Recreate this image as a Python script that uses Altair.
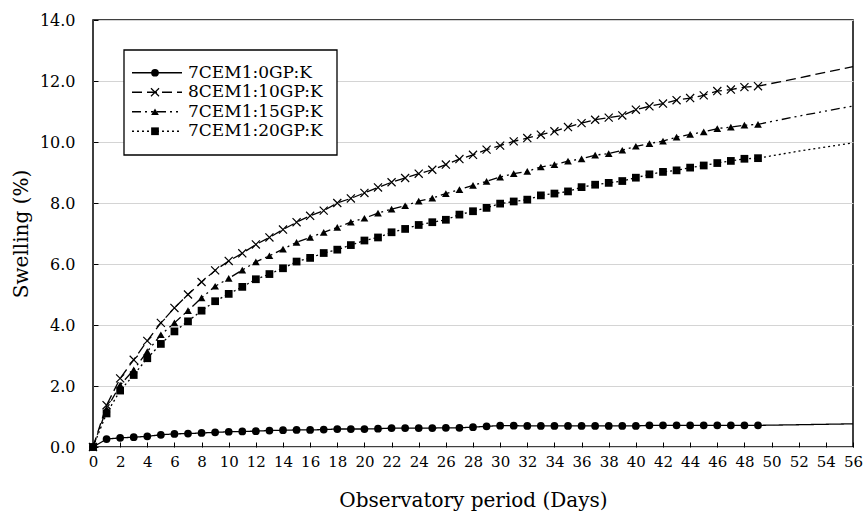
import altair as alt
import pandas as pd

series = ["7CEM1:0GP:K", "8CEM1:10GP:K", "7CEM1:15GP:K", "7CEM1:20GP:K"]
days = list(range(50))

gp0 = [0.00, 0.26, 0.30, 0.32, 0.35, 0.40, 0.43, 0.44, 0.46, 0.48,
       0.50, 0.51, 0.52, 0.54, 0.55, 0.56, 0.56, 0.57, 0.59, 0.59,
       0.59, 0.60, 0.62, 0.62, 0.62, 0.62, 0.63, 0.63, 0.65, 0.68,
       0.70, 0.70, 0.69, 0.69, 0.69, 0.69, 0.69, 0.69, 0.69, 0.69,
       0.69, 0.71, 0.71, 0.71, 0.71, 0.71, 0.71, 0.71, 0.71, 0.71]
gp10 = [0.00, 1.37, 2.25, 2.86, 3.48, 4.07, 4.56, 5.00, 5.41, 5.79,
        6.10, 6.35, 6.64, 6.87, 7.13, 7.37, 7.58, 7.75, 8.00, 8.15,
        8.33, 8.51, 8.68, 8.82, 8.96, 9.09, 9.26, 9.44, 9.58, 9.75,
        9.88, 10.02, 10.13, 10.24, 10.35, 10.49, 10.62, 10.73, 10.80, 10.87,
        11.06, 11.17, 11.26, 11.37, 11.44, 11.53, 11.67, 11.72, 11.80, 11.83]
gp15 = [0.00, 1.25, 2.03, 2.53, 3.13, 3.68, 4.07, 4.47, 4.89, 5.27,
        5.53, 5.80, 6.07, 6.27, 6.49, 6.71, 6.87, 7.04, 7.20, 7.37,
        7.50, 7.67, 7.80, 7.91, 8.06, 8.16, 8.31, 8.44, 8.58, 8.71,
        8.85, 8.96, 9.04, 9.18, 9.26, 9.37, 9.45, 9.57, 9.62, 9.73,
        9.86, 9.95, 10.03, 10.16, 10.25, 10.33, 10.44, 10.49, 10.55, 10.58]
gp20 = [0.00, 1.10, 1.85, 2.36, 2.91, 3.38, 3.79, 4.12, 4.47, 4.78,
        5.02, 5.25, 5.50, 5.67, 5.86, 6.08, 6.20, 6.36, 6.47, 6.62,
        6.77, 6.87, 7.04, 7.15, 7.28, 7.37, 7.45, 7.62, 7.73, 7.84,
        7.98, 8.05, 8.11, 8.25, 8.31, 8.38, 8.52, 8.60, 8.66, 8.72,
        8.83, 8.94, 9.02, 9.07, 9.16, 9.23, 9.31, 9.38, 9.45, 9.47]

# trend-line continuation beyond the last observation
trend_days = [52, 56]
trend_gp0 = [0.73, 0.76]
trend_gp10 = [12.10, 12.47]
trend_gp15 = [10.85, 11.18]
trend_gp20 = [9.70, 9.97]

x_ticks = list(range(0, 57, 2))
y_ticks = [0, 2, 4, 6, 8, 10, 12, 14]

rows = []
for name, vals, tvals in zip(series, [gp0, gp10, gp15, gp20],
                             [trend_gp0, trend_gp10, trend_gp15, trend_gp20]):
    for d, v in zip(days, vals):
        rows.append({"series": name, "day": d, "value": v, "kind": "obs"})
    for d, v in zip(trend_days, tvals):
        rows.append({"series": name, "day": d, "value": v, "kind": "trend"})
df = pd.DataFrame(rows)
obs = df[df["kind"] == "obs"]

FONT = "DejaVu Serif"
cross_path = "M-1,-1L1,1M-1,1L1,-1"

dash_scale = alt.Scale(domain=series, range=[[1, 0], [10, 5], [9, 4, 2, 4, 2, 4], [2, 3]])
shape_scale = alt.Scale(domain=series, range=["circle", cross_path, "triangle-up", "square"])

x_axis = alt.Axis(values=x_ticks, tickCount=29, title="Observatory period (Days)",
                  grid=False, offset=-5, tickSize=5, labelPadding=7, labelFontSize=15,
                  titlePadding=21, labelFlush=False, labelOverlap=False)
y_axis = alt.Axis(values=y_ticks, tickCount=8, format=".1f", title="Swelling (%)",
                  grid=True, offset=-5, tickSize=5, labelPadding=18,
                  titlePadding=8, labelOverlap=False)


def xe():
    return alt.X("day:Q", scale=alt.Scale(domain=[0, 56], nice=False), axis=x_axis)


def ye():
    return alt.Y("value:Q", scale=alt.Scale(domain=[0, 14], nice=False), axis=y_axis)


lines = alt.Chart(df).mark_line(color="black", strokeWidth=1.3).encode(
    x=xe(), y=ye(), detail="series:N",
    strokeDash=alt.StrokeDash("series:N", scale=dash_scale, legend=None),
)

filled_pts = alt.Chart(obs).transform_filter(
    alt.datum.series != series[1]
).mark_point(filled=True, color="black", size=60, opacity=1).encode(
    x=xe(), y=ye(),
    shape=alt.Shape("series:N", scale=shape_scale, legend=None),
)
cross_pts = alt.Chart(obs).transform_filter(
    alt.datum.series == series[1]
).mark_point(filled=False, color="black", size=65, strokeWidth=1.2, opacity=1).encode(
    x=xe(), y=ye(),
    shape=alt.Shape("series:N", scale=shape_scale, legend=None),
)

main = alt.layer(lines, cross_pts, filled_pts)

# manual legend
leg_df = pd.DataFrame({"series": series})
leg_y = alt.Y("series:N", scale=alt.Scale(domain=series, range=[43, 121], padding=0), axis=None)

leg_box = alt.Chart(pd.DataFrame({"a": [0]})).mark_rect(
    fill="white", stroke="black", strokeWidth=1.3
).encode(x=alt.value(31), x2=alt.value(244), y=alt.value(30), y2=alt.value(135))

leg_line = alt.Chart(leg_df).mark_rule(color="black", strokeWidth=1.3).encode(
    x=alt.value(39), x2=alt.value(89), y=leg_y,
    strokeDash=alt.StrokeDash("series:N", scale=dash_scale, legend=None),
)
leg_fill = alt.Chart(leg_df).transform_filter(
    alt.datum.series != series[1]
).mark_point(filled=True, color="black", size=60, opacity=1).encode(
    x=alt.value(62), y=leg_y,
    shape=alt.Shape("series:N", scale=shape_scale, legend=None),
)
leg_cross = alt.Chart(leg_df).transform_filter(
    alt.datum.series == series[1]
).mark_point(filled=False, color="black", size=65, strokeWidth=1.2, opacity=1).encode(
    x=alt.value(62), y=leg_y,
    shape=alt.Shape("series:N", scale=shape_scale, legend=None),
)
leg_text = alt.Chart(leg_df).mark_text(
    align="left", baseline="middle", font=FONT, fontSize=17, color="black"
).encode(x=alt.value(95), y=leg_y, text="series:N")

legend = alt.layer(leg_box, leg_line, leg_cross, leg_fill, leg_text)

chart = alt.layer(main, legend).resolve_scale(y="independent").properties(
    width=760, height=427,
    autosize=alt.AutoSizeParams(type="none"),
    padding={"left": 93, "top": 20, "right": 11, "bottom": 70},
).configure_view(
    stroke="black", strokeWidth=1.5
).configure_axis(
    labelFont=FONT, titleFont=FONT, labelFontSize=16, titleFontSize=20,
    labelColor="black", titleColor="black", titleFontWeight="normal",
    tickColor="black", domain=False, gridColor="#d4d4d4", gridWidth=1,
    labelOverlap=False,
)

chart.save("out.html", embed_options={"renderer": "svg", "actions": False})
